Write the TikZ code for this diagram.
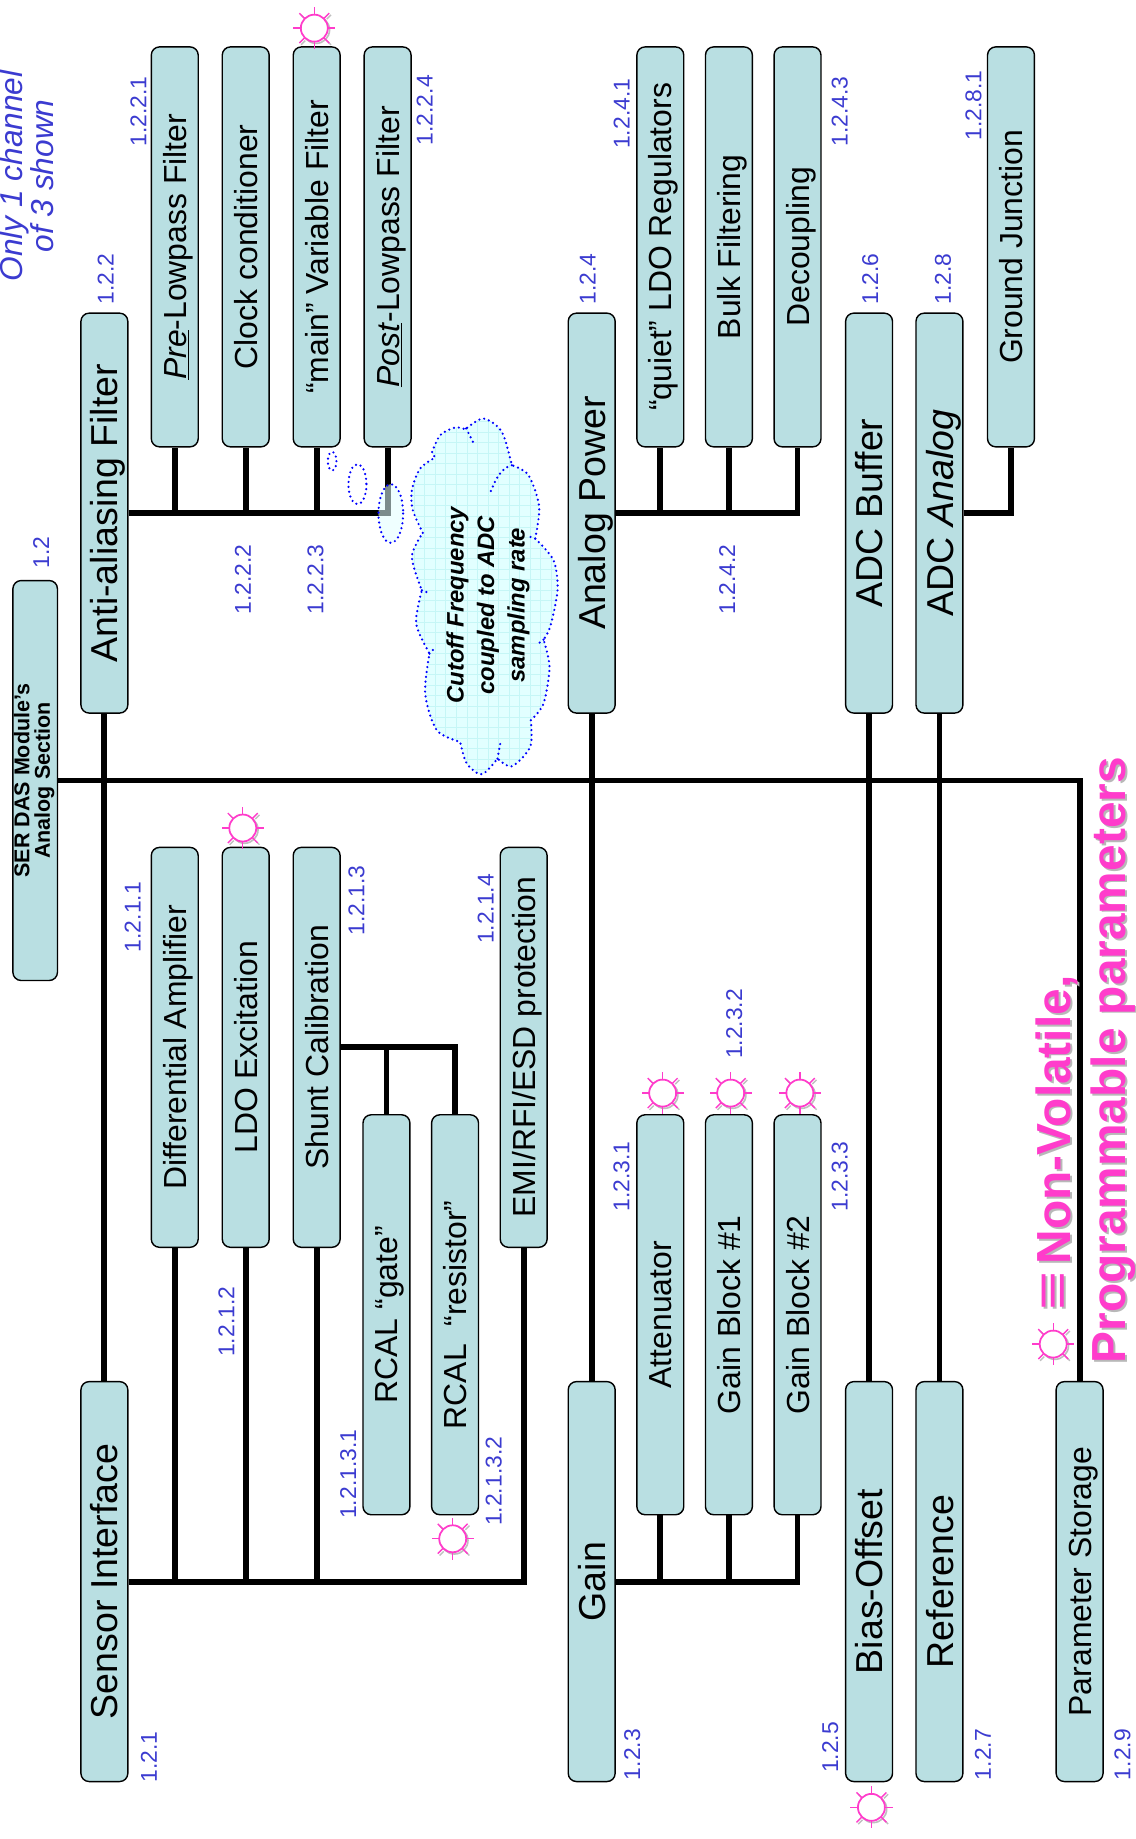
\documentclass[tikz,border=0pt]{standalone}
\usepackage{fontspec}
\setmainfont{Liberation Sans}
\usepackage{tikz}
\usetikzlibrary{positioning, shapes.geometric}

\definecolor{boxteal}{HTML}{B9DFE2}
\definecolor{numblue}{HTML}{3B3BD0}
\definecolor{sunpink}{HTML}{FF3CCB}
\definecolor{cloudcyan}{HTML}{E2FFFF}
\definecolor{cloudgrid}{HTML}{C6F6F6}

\newcommand{\vtext}[1]{\rotatebox{90}{\rule{0pt}{.72em}\raisebox{0pt}[\height][0pt]{#1}}}
\newcommand{\cloudoutline}{
    plot[smooth] coordinates {(248,398)(218,330)(215,270)(240,205)(285,172)}
    -- plot[smooth] coordinates {(275,158)(300,105)(345,82)(378,88)}
    -- plot[smooth] coordinates {(378,85)(430,55)(485,95)(515,195)}
    -- plot[smooth] coordinates {(515,195)(565,225)(597,320)(585,415)}
    -- plot[smooth] coordinates {(585,415)(640,480)(652,570)(630,680)(610,718)}
    -- plot[smooth] coordinates {(610,718)(628,800)(610,910)(572,960)}
    -- plot[smooth] coordinates {(572,960)(570,1040)(515,1098)(472,1075)}
    -- plot[smooth] coordinates {(472,1075)(425,1122)(380,1090)(360,1025)}
    -- plot[smooth] coordinates {(360,1025)(290,990)(255,880)(268,760)}
    -- plot[smooth] coordinates {(268,760)(228,670)(245,570)}
    -- plot[smooth] coordinates {(245,570)(215,470)(248,398)}
}

\tikzset{
    box/.style={draw, line width=1.2pt, fill=boxteal, rounded corners=7pt, minimum width=40pt, minimum height=341pt, inner sep=0pt},
    bigbox/.style={box, font=\fontsize{32}{32}\selectfont},
    smallbox/.style={box, font=\fontsize{27.2}{27}\selectfont},
    rootbox/.style={box, minimum width=38pt, font=\fontsize{18.3}{19}\selectfont\bfseries, align=center},
    numlabel/.style={text=numblue, rotate=90, font=\fontsize{19.5}{20}\selectfont, inner sep=0pt},
    bus/.style={line width=5pt},
    dotline/.style={draw=blue, line width=2.1pt, dash pattern=on 0pt off 4.2pt, line cap=round},
    sunmark/.pic={
        \draw[black!25, line width=1.4pt] (1.5,1.5) circle (11.5pt);
        \foreach \ang in {45,135,225,315}
            \draw[black!25, line width=1.2pt] (\ang:13pt) ++(1.5,1.5) -- ++(\ang:5pt);
        \draw[draw=sunpink, fill=white, line width=1.5pt] (0,0) circle (11.5pt);
        \foreach \ang in {0,45,...,315}
            \draw[sunpink, line width=1.2pt] (\ang:12pt) -- (\ang:18pt);
    }
}

\begin{document}
\begin{tikzpicture}[x=1pt,y=-1pt]
    \useasboundingbox (0,0) rectangle (968,1568);

    \node[rootbox](root) at (30,665.5){\rotatebox{90}{\begin{tabular}{@{}c@{}}SER DAS Module’s\\[-1.5pt]Analog Section\end{tabular}}};

    \node[bigbox](anti) at (89,437.5){\vtext{Anti-aliasing Filter}};
    \node[smallbox](prelp) at (149,210.5){\vtext{\underline{\textit{Pre}}-Lowpass Filter}};
    \node[smallbox](clock)[right = 19.3pt of prelp]{\vtext{Clock conditioner}};
    \node[smallbox](mainf)[right = 19.3pt of clock]{\vtext{“main” Variable Filter}};
    \node[smallbox](postlp)[right = 19.3pt of mainf]{\vtext{\underline{\textit{Post}}-Lowpass Filter}};

    \node[bigbox](sensor) at (89,1348.5){\vtext{Sensor Interface}};
    \node[smallbox](diff) at (149,893){\vtext{Differential Amplifier}};
    \node[smallbox](ldo)[right = 19.3pt of diff]{\vtext{LDO Excitation}};
    \node[smallbox](shunt)[right = 19.3pt of ldo]{\vtext{Shunt Calibration}};
    \node[smallbox](rcalgate) at (329.5,1121){\vtext{RCAL “gate”}};
    \node[smallbox](rcalres)[right = 17.3pt of rcalgate]{\vtext{RCAL ~“resistor”}};
    \node[smallbox](emi) at (446.5,893){\vtext{EMI/RFI/ESD protection}};

    \node[bigbox](apower) at (504.5,437.5){\vtext{Analog Power}};
    \node[smallbox](quiet) at (563,210.5){\vtext{“quiet” LDO Regulators}};
    \node[smallbox](bulk)[right = 17.3pt of quiet]{\vtext{Bulk Filtering}};
    \node[smallbox](decoup)[right = 17.3pt of bulk]{\vtext{Decoupling}};

    \node[bigbox](gain) at (504.5,1348.5){\vtext{Gain}};
    \node[smallbox](atten) at (563,1121){\vtext{Attenuator}};
    \node[smallbox](gainone)[right = 17.3pt of atten]{\vtext{Gain Block \#1}};
    \node[smallbox](gaintwo)[right = 17.3pt of gainone]{\vtext{Gain Block \#2}};

    \node[bigbox](adcbuf) at (741,437.5){\vtext{ADC Buffer}};
    \node[bigbox](adcana) at (801,437.5){\vtext{ADC \textit{Analog}}};
    \node[smallbox](ground) at (862,210.5){\vtext{Ground Junction}};
    \node[bigbox](bias) at (741,1348.5){\vtext{Bias-Offset}};
    \node[bigbox](refer) at (801,1348.5){\vtext{Reference}};
    \node[smallbox](param) at (920.5,1348.5){\vtext{Parameter Storage}};

    \path[draw, bus]
    (root.east) -| (param.north)
    (anti.south) -- (sensor.north)
    (apower.south) -- (gain.north)
    (adcbuf.south) -- (bias.north)
    (adcana.south) -- (refer.north)
    (anti.east) -| (prelp.south)
    (anti.east) -| (clock.south)
    (anti.east) -| (mainf.south)
    (anti.east) -| (postlp.south)
    (sensor.east) -| (diff.south)
    (sensor.east) -| (ldo.south)
    (sensor.east) -| (shunt.south)
    (sensor.east) -| (emi.south)
    (shunt.east) -| (rcalgate.north)
    (shunt.east) -| (rcalres.north)
    (apower.east) -| (quiet.south)
    (apower.east) -| (bulk.south)
    (apower.east) -| (decoup.south)
    (gain.east) -| (atten.south)
    (gain.east) -| (gainone.south)
    (gain.east) -| (gaintwo.south)
    (adcana.east) -| (ground.south);

    \node[numlabel](n12) at (35,471){1.2};
    \node[numlabel](n121) at (127,1498){1.2.1};
    \node[numlabel](n1211) at (113,782){1.2.1.1};
    \node[numlabel](n1212) at (193,1127){1.2.1.2};
    \node[numlabel](n1213) at (304,768){1.2.1.3};
    \node[numlabel](n12131) at (297,1257){1.2.1.3.1};
    \node[numlabel](n12132) at (421,1263){1.2.1.3.2};
    \node[numlabel](n1214) at (414,775){1.2.1.4};
    \node[numlabel](n122) at (90,238){1.2.2};
    \node[numlabel](n1221) at (118,95){1.2.2.1};
    \node[numlabel](n1222) at (207,494){1.2.2.2};
    \node[numlabel](n1223) at (269,494){1.2.2.3};
    \node[numlabel](n1224) at (362,94){1.2.2.4};
    \node[numlabel](n123) at (539,1496){1.2.3};
    \node[numlabel](n1231) at (530,1003){1.2.3.1};
    \node[numlabel](n1232) at (626,873){1.2.3.2};
    \node[numlabel](n1233) at (716,1003){1.2.3.3};
    \node[numlabel](n124) at (501,238){1.2.4};
    \node[numlabel](n1241) at (530,97){1.2.4.1};
    \node[numlabel](n1242) at (620,494){1.2.4.2};
    \node[numlabel](n1243) at (716,95){1.2.4.3};
    \node[numlabel](n125) at (708,1490){1.2.5};
    \node[numlabel](n126) at (742,238){1.2.6};
    \node[numlabel](n127) at (838,1496){1.2.7};
    \node[numlabel](n128) at (804,238){1.2.8};
    \node[numlabel](n1281) at (830,90){1.2.8.1};
    \node[numlabel](n129) at (957,1496){1.2.9};

    \node[rotate=90, align=center, text=numblue, font=\fontsize{27}{25}\selectfont\itshape](channels) at (22.5,150){Only 1 channel\\of 3 shown};

    \begin{scope}[shift={(290,341.2)}, x=0.2843pt, y=-0.2843pt]
        \fill[cloudcyan] \cloudoutline;
        \begin{scope}
            \clip \cloudoutline;
            \draw[cloudgrid, line width=0.5pt, step=9pt] (0,0) grid (800,1300);
        \end{scope}
        \draw[dotline] \cloudoutline;
        \draw[dotline] (378,85) -- (400,128);
        \draw[dotline] (515,195) .. controls (480,205) and (465,240) .. (450,278);
        \draw[dotline] (585,415) -- (570,410);
        \draw[dotline] (610,718) -- (592,732);
        \draw[dotline] (472,1075) -- (482,1020);
        \draw[dotline] (268,760) -- (285,742);
        \draw[dotline] (245,570) -- (265,578);
        \draw[dotline] (-24,183) ellipse [x radius=13, y radius=28];
        \draw[dotline] (52,252) ellipse [x radius=27, y radius=60];
        \path[fill=cloudcyan, fill opacity=0.55, dotline] (152,340) ellipse [x radius=37, y radius=88];
    \end{scope}
    \node[rotate=90, align=center, font=\fontsize{20.3}{26}\selectfont\bfseries\itshape](cutoff) at (416,516){Cutoff Frequency\\coupled to ADC\\sampling rate};

    \path (268,24) pic {sunmark};
    \path (207,706) pic {sunmark};
    \path (386,1312) pic {sunmark};
    \path (565,932) pic {sunmark};
    \path (623,932) pic {sunmark};
    \path (682,932) pic {sunmark};
    \path (743,1541) pic {sunmark};
    \path (898,1146) pic {sunmark};

    \node[rotate=90, anchor=west, align=left, text=black!28, font=\fontsize{40.8}{47}\selectfont\bfseries](legendshade) at (927.5,1167.5){\hspace*{45pt}\scalebox{1.4}[1.1]{≡}\hspace{6pt}Non-Volatile,\\Programmable parameters};
    \node[rotate=90, anchor=west, align=left, text=sunpink, font=\fontsize{40.8}{47}\selectfont\bfseries](legend) at (925.5,1166){\hspace*{45pt}\scalebox{1.4}[1.1]{≡}\hspace{6pt}Non-Volatile,\\Programmable parameters};
\end{tikzpicture}
\end{document}
